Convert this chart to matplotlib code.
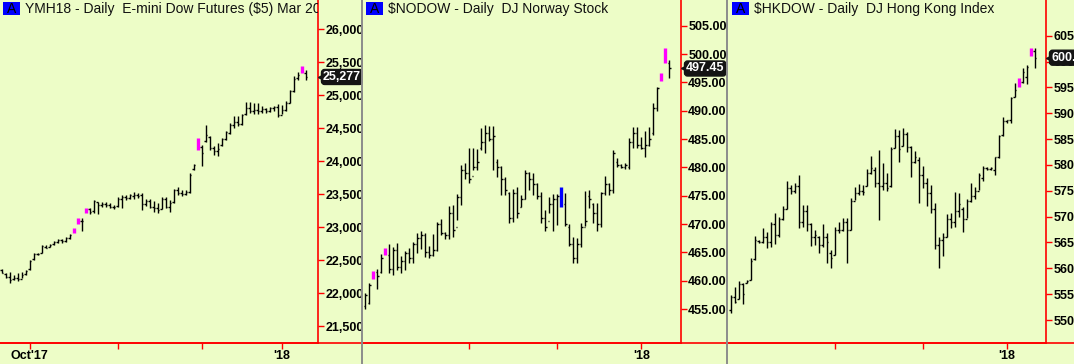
import numpy as np
import matplotlib.pyplot as plt
from matplotlib.patches import Rectangle
from matplotlib.lines import Line2D
import matplotlib.transforms as mtransforms

plt.rcParams['font.family'] = ['Liberation Sans', 'DejaVu Sans']

BG = '#EDFDC7'
RED = '#FF0000'
MAG = '#FF00FF'
BLUE = '#0000FF'

# ---- YMH18 (E-mini Dow) daily bars ----
ym_high = [22360, 22300, 22325, 22274, 22300, 22325, 22350, 22502, 22613, 22613,
           22729, 22729, 22744, 22795, 22815, 22815, 22845, 22896, 22982, 23134,
           23134, 23285, 23285, 23412, 23386, 23386, 23386, 23361, 23336, 23452,
           23487, 23487, 23503, 23538, 23513, 23523, 23422, 23422, 23401, 23371,
           23452, 23452, 23412, 23573, 23604, 23563, 23563, 23816, 23958, 24347,
           24246, 24549, 24382, 24230, 24271, 24347, 24463, 24574, 24685, 24685,
           24716, 24903, 24903, 24877, 24877, 24837, 24802, 24827, 24837, 24867,
           24852, 24918, 25080, 25292, 25358, 25444, 25383]
ym_low = [22300, 22224, 22148, 22198, 22188, 22224, 22274, 22350, 22502, 22578,
          22603, 22679, 22694, 22729, 22754, 22765, 22780, 22815, 22906, 23048,
          22946, 23210, 23199, 23210, 23199, 23310, 23310, 23285, 23270, 23310,
          23285, 23412, 23422, 23422, 23437, 23260, 23320, 23285, 23235, 23210,
          23270, 23285, 23235, 23361, 23487, 23472, 23487, 23513, 23867, 24170,
          23927, 24296, 24170, 24094, 24084, 24230, 24321, 24413, 24498, 24534,
          24549, 24701, 24726, 24716, 24716, 24736, 24726, 24751, 24766, 24665,
          24716, 24766, 24877, 25054, 25231, 25333, 25231]
ym_open = [22350, 22290, 22250, 22210, 22230, 22220, 22290, 22360, 22510, 22590,
           22610, 22700, 22700, 22740, 22770, 22800, 22790, 22830, 22910, 23060,
           23100, 23220, 23270, 23240, 23380, 23330, 23350, 23340, 23310, 23320,
           23430, 23460, 23440, 23470, 23490, 23480, 23350, 23400, 23310, 23290,
           23270, 23420, 23300, 23380, 23560, 23510, 23500, 23540, 23880, 24180,
           24220, 24300, 24370, 24200, 24150, 24240, 24330, 24430, 24550, 24600,
           24560, 24710, 24800, 24760, 24780, 24760, 24790, 24760, 24800, 24820,
           24700, 24780, 24880, 25070, 25260, 25340, 25330]
ym_close = [22310, 22240, 22200, 22230, 22210, 22280, 22330, 22490, 22590, 22600,
            22710, 22690, 22730, 22780, 22800, 22790, 22830, 22880, 22970, 23120,
            23100, 23270, 23230, 23390, 23330, 23350, 23340, 23310, 23300, 23430,
            23460, 23440, 23480, 23490, 23470, 23350, 23400, 23310, 23290, 23260,
            23420, 23300, 23370, 23560, 23510, 23500, 23540, 23790, 23940, 24330,
            24120, 24400, 24200, 24150, 24180, 24330, 24440, 24550, 24600, 24560,
            24700, 24800, 24760, 24780, 24760, 24790, 24760, 24800, 24820, 24700,
            24780, 24880, 25060, 25250, 25300, 25430, 25277]
ym_marks = {18: MAG, 19: MAG, 21: MAG, 49: MAG, 75: MAG}
ym_yticks = [21500, 22000, 22500, 23000, 23500, 24000, 24500, 25000, 25500, 26000]
ym_ylabels = ['21,500', '22,000', '22,500', '23,000', '23,500', '24,000',
              '24,500', '25,000', '25,500', '26,000']
ym_last = 25277
ym_last_label = '25,277'

# ---- $NODOW daily bars ----
no_high = [457.88, 459.53, 461.77, 462.00, 464.71, 465.71, 466.47, 465.88, 466.71, 464.35,
           465.30, 465.71, 466.88, 468.35, 468.83, 468.35, 466.12, 468.24, 470.41, 470.83,
           468.65, 473.18, 473.35, 475.30, 480.41, 480.83, 483.36, 483.36, 483.18, 486.89,
           487.48, 487.30, 487.30, 481.42, 480.24, 478.36, 475.71, 476.12, 476.59, 475.12,
           479.53, 479.24, 478.94, 477.18, 475.71, 472.47, 474.71, 475.30, 475.30, 476.59,
           475.53, 470.00, 467.65, 467.47, 470.24, 475.88, 476.00, 473.65, 473.77, 475.71,
           478.47, 477.30, 483.06, 481.59, 480.59, 480.71, 485.12, 487.06, 487.06, 485.42,
           486.48, 487.06, 491.42, 494.24, 496.59, 501.00, 498.95]
no_low = [454.94, 455.88, 460.24, 458.47, 461.29, 464.50, 461.29, 461.00, 461.88, 461.41,
          461.88, 463.18, 463.18, 464.83, 465.53, 464.24, 463.94, 464.35, 465.30, 468.06,
          467.29, 467.29, 467.77, 470.71, 473.35, 477.89, 477.30, 479.53, 479.53, 483.06,
          482.59, 484.71, 479.53, 478.24, 475.12, 475.12, 470.12, 470.41, 471.00, 473.06,
          474.35, 475.99, 475.12, 474.35, 470.24, 468.83, 472.00, 468.83, 469.83, 473.06,
          469.65, 466.12, 463.18, 463.18, 466.00, 469.65, 472.77, 470.24, 468.83, 469.41,
          475.12, 475.12, 475.41, 480.00, 479.83, 479.65, 479.65, 483.36, 483.36, 483.18,
          481.89, 483.77, 485.71, 490.00, 495.30, 498.48, 495.71]
no_open = [455.5, 456.0, 460.4, 461.6, 461.5, 464.6, 464.5, 462.0, 465.5, 462.5,
           463.5, 464.8, 464.0, 466.5, 467.5, 468.0, 465.0, 464.5, 465.5, 470.0,
           468.5, 468.0, 472.0, 469.5, 474.8, 479.5, 479.0, 478.5, 480.0, 483.5,
           484.5, 486.0, 485.0, 481.0, 480.0, 478.0, 475.5, 471.0, 475.5, 473.0,
           474.5, 479.0, 478.0, 477.0, 475.0, 471.0, 470.5, 473.5, 474.5, 476.0,
           473.5, 469.5, 466.5, 464.0, 466.5, 469.5, 475.0, 473.5, 472.0, 470.0,
           475.5, 477.0, 476.0, 481.0, 480.5, 480.0, 480.0, 484.5, 486.0, 484.0,
           483.5, 484.0, 486.0, 490.5, 495.3, 498.5, 498.5]
no_close = [457.5, 459.3, 461.5, 460.8, 464.0, 465.5, 462.0, 465.5, 462.5, 463.5,
            464.8, 464.0, 466.5, 467.5, 468.0, 465.0, 464.5, 465.5, 470.0, 468.5,
            468.0, 472.0, 469.0, 474.8, 479.5, 479.0, 478.0, 480.0, 481.0, 484.5,
            486.0, 485.0, 485.5, 480.0, 478.0, 476.0, 471.0, 475.5, 472.0, 474.5,
            479.0, 478.0, 477.0, 475.0, 471.0, 469.5, 473.5, 474.5, 475.0, 473.5,
            470.0, 466.5, 464.0, 466.5, 469.5, 470.5, 474.5, 472.0, 470.0, 475.5,
            477.0, 476.0, 482.5, 480.5, 480.0, 480.5, 484.5, 486.0, 484.0, 483.5,
            484.0, 485.0, 490.5, 494.0, 496.0, 500.5, 497.45]
no_marks = {2: MAG, 5: MAG, 49: BLUE, 74: MAG, 75: MAG}
no_yticks = [455, 460, 465, 470, 475, 480, 485, 490, 495, 500, 505]
no_ylabels = ['455.00', '460.00', '465.00', '470.00', '475.00', '480.00',
              '485.00', '490.00', '495.00', '500.00', '505.00']
no_last = 497.45
no_last_label = '497.45'

# ---- $HKDOW daily bars ----
hk_high = [554.85, 556.46, 557.62, 557.11, 557.75, 561.94, 566.26, 565.49, 567.74, 567.10,
           569.03, 570.64, 570.00, 572.06, 576.96, 576.12, 576.57, 578.06, 572.25, 572.25,
           568.84, 567.42, 566.26, 568.58, 566.78, 563.55, 568.07, 569.03, 569.68, 569.68,
           573.55, 575.80, 576.32, 576.12, 579.15, 581.73, 579.67, 582.89, 580.44, 578.38,
           583.41, 586.89, 586.76, 587.08, 586.44, 583.67, 582.76, 581.47, 579.80, 577.41,
           576.12, 572.71, 566.13, 566.78, 570.52, 570.64, 574.83, 574.51, 571.93, 573.35,
           576.57, 575.80, 578.51, 579.80, 579.67, 579.67, 581.60, 585.79, 589.21, 588.70,
           593.21, 595.79, 596.75, 598.69, 599.33, 602.56, 602.56]
hk_low = [551.43, 553.24, 554.01, 553.11, 557.11, 557.75, 561.62, 564.84, 564.84, 563.88,
          564.20, 564.71, 566.00, 569.35, 571.42, 574.38, 574.64, 567.74, 568.07, 567.29,
          564.33, 564.52, 563.04, 564.07, 561.10, 560.01, 562.59, 566.90, 567.29, 560.97,
          567.42, 573.22, 574.19, 574.19, 575.93, 578.25, 575.67, 569.35, 575.16, 575.03,
          575.80, 583.21, 580.64, 583.67, 582.57, 577.73, 580.44, 572.71, 575.48, 572.06,
          570.64, 563.68, 560.01, 562.39, 566.00, 567.74, 567.94, 570.00, 567.10, 569.68,
          572.90, 573.35, 575.16, 576.96, 579.03, 579.03, 578.06, 581.28, 585.60, 588.18,
          588.18, 593.08, 595.10, 595.79, 595.66, 601.07, 598.69]
hk_open = [552.0, 554.5, 554.0, 557.0, 557.2, 557.8, 561.8, 565.2, 565.0, 566.0,
           565.0, 568.5, 566.5, 569.5, 571.5, 575.5, 575.0, 576.0, 569.0, 571.0,
           568.5, 566.0, 566.0, 564.5, 566.0, 563.0, 562.5, 567.5, 567.5, 569.0,
           567.5, 573.0, 574.5, 575.0, 576.0, 578.5, 579.0, 576.5, 576.0, 576.5,
           576.0, 583.2, 585.5, 583.7, 586.0, 583.5, 580.5, 581.0, 578.0, 576.5,
           574.5, 571.5, 564.5, 565.5, 566.0, 569.5, 569.0, 571.0, 571.5, 569.5,
           573.0, 574.0, 575.0, 577.5, 579.5, 579.3, 579.0, 581.5, 585.8, 588.5,
           588.6, 593.2, 595.5, 596.0, 597.0, 601.2, 602.0]
hk_close = [554.5, 553.5, 557.0, 555.0, 557.6, 561.5, 565.5, 565.0, 566.0, 565.0,
            568.5, 566.5, 569.5, 571.5, 575.5, 575.0, 576.0, 569.0, 571.0, 568.5,
            566.0, 566.5, 564.5, 566.0, 565.0, 562.0, 567.5, 567.5, 569.0, 567.5,
            573.0, 574.5, 575.0, 574.8, 578.5, 579.5, 576.5, 576.0, 576.5, 575.5,
            583.0, 585.5, 583.0, 586.0, 583.5, 580.5, 581.5, 578.0, 576.5, 574.5,
            571.5, 564.5, 565.5, 566.0, 569.5, 569.0, 571.0, 572.5, 569.5, 573.0,
            574.0, 575.0, 578.0, 579.5, 579.3, 579.4, 581.5, 585.5, 588.5, 588.6,
            593.0, 594.5, 596.0, 598.0, 599.0, 602.0, 600.74]
hk_marks = {72: MAG, 75: MAG}
hk_yticks = [550, 555, 560, 565, 570, 575, 580, 585, 590, 595, 600, 605]
hk_ylabels = ['550.00', '555.00', '560.00', '565.00', '570.00', '575.00', '580.00',
              '585.00', '590.00', '595.00', '600.00', '605.00']
hk_last = 600.74
hk_last_label = '600.74'

# month ticks (bar index)
ym_xticks = [7, 29, 50, 70]
ym_xlabels = ["Oct'17", '', '', "'18"]
idx_xticks = [26, 48, 69]
idx_xlabels = ['', '', "'18"]

W, H = 1074, 364
fig = plt.figure(figsize=(W / 100, H / 100), dpi=100, facecolor=BG)

BOTTOM_PX = 343
FLAG = '#141414'


def panel(left_px, right_px, xlim, ylim, o, h, l, c, marks, yt, ytl, xt, xtl,
          last, last_lbl, title):
    wpx = right_px - left_px
    ax = fig.add_axes([left_px / W, (H - BOTTOM_PX) / H, wpx / W, BOTTOM_PX / H])
    ax.set_facecolor(BG)
    o, h, l, c = map(np.asarray, (o, h, l, c))
    x = np.arange(len(h))
    plain = np.array([i not in marks for i in x])
    ax.vlines(x[plain], l[plain], h[plain], color='black', lw=1.0)
    ax.hlines(o[plain], x[plain] - 0.4, x[plain], color='black', lw=1.0)
    ax.hlines(c[plain], x[plain], x[plain] + 0.4, color='black', lw=1.0)
    for i, col in marks.items():
        ax.vlines(x[i], l[i], h[i], color=col, lw=2.4)

    ax.set_xlim(*xlim)
    ax.set_ylim(*ylim)
    for s in ('top', 'left'):
        ax.spines[s].set_visible(False)
    for s in ('right', 'bottom'):
        ax.spines[s].set_color(RED)
        ax.spines[s].set_linewidth(1.2)
    ax.yaxis.tick_right()
    ax.set_yticks(yt, ytl, fontweight='bold', fontsize=9)
    ax.set_xticks(xt, xtl, fontweight='bold', fontsize=9)
    ax.tick_params(axis='both', colors=RED, labelcolor='black', length=4,
                   width=1, direction='out', pad=1.2)

    # last price flag: small pointer + dark box
    trans = mtransforms.blended_transform_factory(ax.transAxes, ax.transData)
    ax.plot([1.0 + 2.5 / wpx], [last], marker='<', ms=5, color=FLAG,
            transform=trans, clip_on=False, zorder=5)
    ax.text(1.0 + 5 / wpx, last, last_lbl, transform=trans,
            color='white', fontweight='bold', fontsize=9, ha='left', va='center',
            clip_on=False, zorder=6,
            bbox=dict(boxstyle='round,pad=0.12,rounding_size=0.25', fc=FLAG, ec=FLAG))

    # title with blue "A" tag
    ax.add_patch(Rectangle((3 / wpx, 1 - 15 / BOTTOM_PX), 17 / wpx, 13 / BOTTOM_PX,
                           transform=ax.transAxes, fc=BLUE, ec='none', clip_on=False))
    ax.text(11.5 / wpx, 1 - 9 / BOTTOM_PX, 'A', transform=ax.transAxes,
            ha='center', va='center', fontsize=10, color='black')
    ax.text(25 / wpx, 1 - 9.5 / BOTTOM_PX, title, transform=ax.transAxes,
            ha='left', va='center', fontsize=10, color='#111111',
            parse_math=False, clip_on=True)
    return ax


panel(0, 318, (-0.42, 79.1), (21243, 26444), ym_open, ym_high, ym_low, ym_close,
      ym_marks, ym_yticks, ym_ylabels, ym_xticks, ym_xlabels, ym_last, ym_last_label,
      'YMH18 - Daily  E-mini Dow Futures ($5) Mar 2018')
panel(363, 681, (-0.6, 78.9), (449.0, 509.54), no_open, no_high, no_low, no_close,
      no_marks, no_yticks, no_ylabels, idx_xticks, idx_xlabels, no_last, no_last_label,
      '$NODOW - Daily  DJ Norway Stock')
panel(729, 1046, (-0.4, 78.8), (545.56, 611.9), hk_open, hk_high, hk_low, hk_close,
      hk_marks, hk_yticks, hk_ylabels, idx_xticks, idx_xlabels, hk_last, hk_last_label,
      '$HKDOW - Daily  DJ Hong Kong Index')

# red baseline across the whole strip, grey panel separators
yb = (H - BOTTOM_PX) / H
fig.add_artist(Line2D([0, 1], [yb, yb], color=RED, lw=1.2, transform=fig.transFigure))
for xs in (361.5, 727):
    fig.add_artist(Line2D([xs / W, xs / W], [0, 1], color='#8C8C8C', lw=1.4,
                          transform=fig.transFigure))

fig.savefig('out.png', dpi=100, facecolor=BG)
